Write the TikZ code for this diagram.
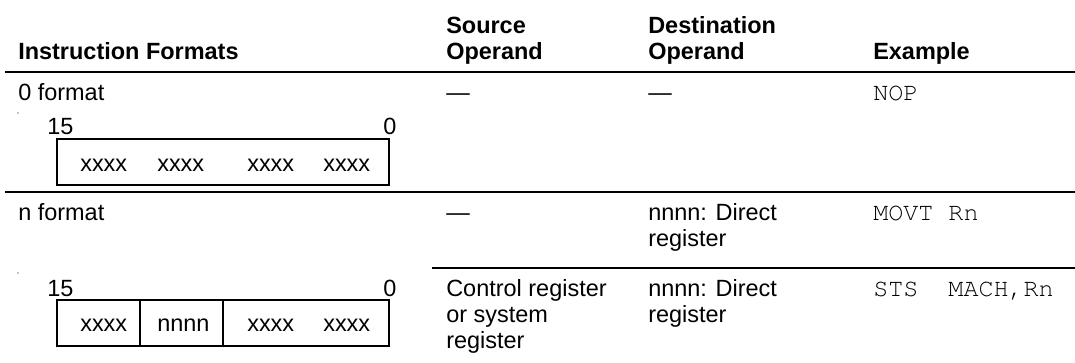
\documentclass[tikz,border=0pt]{standalone}
\usepackage{fontspec}
\setmainfont{Liberation Sans}
\setmonofont{texgyrecursor-regular.otf}
\begin{document}
\begin{tikzpicture}[x=0.75pt,y=-0.75pt,
  txt/.style={anchor=base west,inner sep=0pt,font=\fontsize{17.6pt}{19.5pt}\selectfont},
  hdr/.style={anchor=base west,inner sep=0pt,font=\fontsize{17.6pt}{19.5pt}\selectfont\bfseries},
  code/.style={anchor=base west,inner sep=0pt,font=\fontsize{18.8pt}{20pt}\selectfont\ttfamily},
  thickrule/.style={line width=2.2pt},
  thinrule/.style={line width=1pt},
  field/.style={line width=0.9pt}]
\useasboundingbox (0,0) rectangle (1075,363);
% header
\node[hdr] (hIF) at (18,60) {Instruction Formats};
\node[hdr] (hS1) at (446,34) {Source};
\node[hdr] (hS2) at (446,60) {Operand};
\node[hdr] (hD1) at (648,34) {Destination};
\node[hdr] (hD2) at (648,60) {Operand};
\node[hdr] (hEx) at (873,60) {Example};
\coordinate (r0a) at (5,72); \coordinate (r0b) at (1075,72);
\draw[thickrule] (r0a) -- (r0b);
% row 1
\node[txt] (f0) at (18,101) {0 format};
\node[txt] (s1) at (446,101) {—};
\node[txt] (d1) at (648,101) {—};
\node[code] (e1) at (873,101) {NOP};
\fill (18,113) circle (0.5pt);
\node[txt] (b1hi) at (47,135) {15};
\node[txt] (b1lo) at (383,135) {0};
\coordinate (b1a) at (57,139); \coordinate (b1b) at (389,185);
\draw[field] (b1a) rectangle (b1b);
\node[txt] (b1x1) at (80,172) {xxxx};
\node[txt] (b1x2) at (157,172) {xxxx};
\node[txt] (b1x3) at (247,172) {xxxx};
\node[txt] (b1x4) at (323,172) {xxxx};
\coordinate (r1a) at (5,192); \coordinate (r1b) at (1075,192);
\draw[thinrule] (r1a) -- (r1b);
% row 2
\node[txt] (fn) at (18,221) {n format};
\node[txt] (s2) at (446,221) {—};
\node[txt] (d2a) at (648,221) {nnnn: Direct};
\node[txt] (d2b) at (648,247) {register};
\node[code] (e2) at (873,221) {MOVT Rn};
\coordinate (r2a) at (432,268); \coordinate (r2b) at (1075,268);
\draw[thinrule] (r2a) -- (r2b);
% row 3
\node[txt] (s3a) at (446,297) {Control register};
\node[txt] (s3b) at (446,323) {or system};
\node[txt] (s3c) at (446,349) {register};
\node[txt] (d3a) at (648,297) {nnnn: Direct};
\node[txt] (d3b) at (648,323) {register};
\node[code] (e3) at (873,297) {STS\ \ MACH,Rn};
\fill (18,273) circle (0.5pt);
\node[txt] (b2hi) at (47,297) {15};
\node[txt] (b2lo) at (383,297) {0};
\coordinate (b2a) at (57,300); \coordinate (b2b) at (389,346);
\coordinate (b2c) at (140,300); \coordinate (b2d) at (140,346);
\coordinate (b2e) at (223,300); \coordinate (b2f) at (223,346);
\draw[field] (b2a) rectangle (b2b);
\draw[field] (b2c) -- (b2d);
\draw[field] (b2e) -- (b2f);
\node[txt] (b2x1) at (80,332) {xxxx};
\node[txt] (b2x2) at (157,332) {nnnn};
\node[txt] (b2x3) at (247,332) {xxxx};
\node[txt] (b2x4) at (323,332) {xxxx};
\end{tikzpicture}
\end{document}
